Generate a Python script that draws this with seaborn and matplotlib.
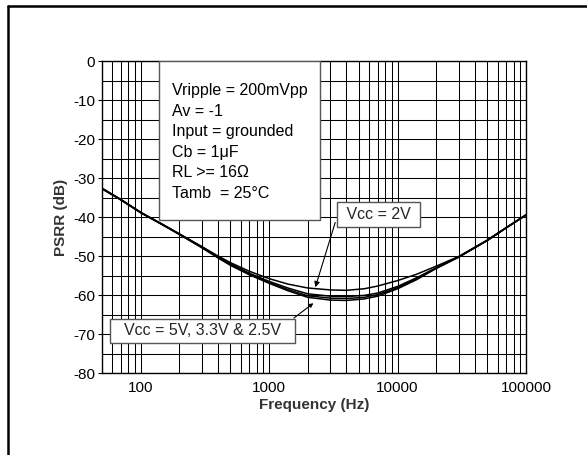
import numpy as np
import pandas as pd
import matplotlib
matplotlib.use('Agg')
import matplotlib.pyplot as plt
from matplotlib.lines import Line2D
from matplotlib.patches import Rectangle
from matplotlib.ticker import FixedLocator, FuncFormatter, LogLocator, MultipleLocator
import seaborn as sns

# values
freq_hz = [50, 70, 100, 150, 200, 300, 400, 500, 700, 1000, 1400, 2000,
           3000, 4000, 5500, 7000, 10000, 14000, 20000, 30000, 50000,
           70000, 100000]

psrr_2v = [-32.6, -35.5, -38.8, -42.0, -44.3, -47.6, -50.0, -51.7, -53.9,
           -55.8, -57.2, -58.2, -58.7, -58.8, -58.4, -57.7, -56.3, -54.7,
           -52.6, -50.1, -45.9, -42.7, -39.4]
psrr_25v = [-32.7, -35.5, -38.8, -42.0, -44.4, -47.7, -50.2, -52.0, -54.4,
            -56.5, -58.2, -59.7, -60.3, -60.4, -60.1, -59.5, -57.8, -55.6,
            -53.0, -50.2, -46.0, -42.8, -39.5]
psrr_33v = [-32.7, -35.6, -38.9, -42.1, -44.4, -47.8, -50.3, -52.2, -54.6,
            -56.8, -58.6, -60.2, -60.8, -60.9, -60.6, -59.9, -58.1, -55.9,
            -53.1, -50.2, -46.0, -42.8, -39.5]
psrr_5v = [-32.8, -35.6, -38.9, -42.1, -44.5, -47.9, -50.5, -52.4, -54.8,
           -57.0, -58.9, -60.6, -61.3, -61.4, -61.0, -60.3, -58.4, -56.1,
           -53.2, -50.3, -46.0, -42.8, -39.5]

series_names = ['2V', '2.5V', '3.3V', '5V']
x_ticks = [100, 1000, 10000, 100000]
y_ticks = [0, -10, -20, -30, -40, -50, -60, -70, -80]

conditions = [
    'Vripple = 200mVpp',
    'Av = -1',
    'Input = grounded',
    'Cb = 1\u03bcF',
    'RL >= 16\u03a9',
    'Tamb  = 25\u00b0C',
]


frames = []
for name, values in zip(series_names, [psrr_2v, psrr_25v, psrr_33v, psrr_5v]):
    frames.append(pd.DataFrame({'Frequency': freq_hz, 'PSRR': values, 'Vcc': name}))
data = pd.concat(frames, ignore_index=True)

sns.set_theme(style='white')
plt.rcParams['font.family'] = ['Liberation Sans', 'DejaVu Sans']
plt.rcParams['axes.unicode_minus'] = False

fig = plt.figure(figsize=(5.87, 4.55), dpi=100)
ax = fig.add_axes([0.1738, 0.1802, 0.7223, 0.6857])

sns.lineplot(
    data=data,
    x='Frequency',
    y='PSRR',
    hue='Vcc',
    palette=['black'] * 4,
    linewidth=1.1,
    legend=False,
    ax=ax,
    zorder=4
)

ax.set_xscale('log')
ax.set_xlim(50, 100000)
ax.set_ylim(-80, 0)

ax.xaxis.set_major_locator(FixedLocator(x_ticks))
ax.xaxis.set_major_formatter(FuncFormatter(lambda v, p: f'{int(round(v))}'))
ax.xaxis.set_minor_locator(LogLocator(base=10, subs=range(2, 10)))
ax.xaxis.set_minor_formatter(FuncFormatter(lambda v, p: ''))
ax.yaxis.set_major_locator(FixedLocator(y_ticks))
ax.yaxis.set_minor_locator(MultipleLocator(5))

ax.grid(which='both', color='black', linewidth=0.75)
ax.set_axisbelow(True)

ax.tick_params(axis='y', which='major', direction='out', length=3, width=0.8,
               labelsize=11, pad=2, color='black', labelcolor='black', left=True)
ax.tick_params(axis='y', which='minor', length=0)
ax.tick_params(axis='x', which='both', length=0, labelsize=11, pad=6,
               labelcolor='black')

for spine in ax.spines.values():
    spine.set_color('black')
    spine.set_linewidth(1.0)

ax.set_xlabel('Frequency (Hz)', fontsize=11, fontweight='bold',
              color='#333333', labelpad=2)
ax.set_ylabel('PSRR (dB)', fontsize=11, fontweight='bold',
              color='#333333', labelpad=4)

# conditions box
ax.add_patch(Rectangle((140, -40.8), 2500 - 140, 40.8, facecolor='white',
                       edgecolor='#555555', linewidth=1.0, zorder=3))
for i, line in enumerate(conditions):
    ax.text(174, -7.6 - i * 5.25, line, fontsize=11.5, va='center',
            ha='left', color='black', zorder=5)

box_style = dict(boxstyle='square,pad=0.3', facecolor='white',
                 edgecolor='#555555', linewidth=1.0)

ax.text(7060, -39.3, ' Vcc = 2V ', fontsize=11.5, ha='center', va='center',
        bbox=box_style, zorder=6)
ax.annotate('', xy=(2290, -58.0), xytext=(3270, -41.4),
            arrowprops=dict(arrowstyle='-|>', color='black', lw=0.8,
                            mutation_scale=8, shrinkA=0, shrinkB=0),
            zorder=6)

ax.text(303, -69.2, '  Vcc = 5V, 3.3V & 2.5V  ', fontsize=11.5, ha='center',
        va='center', bbox=box_style, zorder=6)
ax.annotate('', xy=(2210, -62.1), xytext=(1560, -65.9),
            arrowprops=dict(arrowstyle='-|>', color='black', lw=0.8,
                            mutation_scale=6, shrinkA=0, shrinkB=0),
            zorder=6)

# page frame
fig.add_artist(Line2D([0.0128, 0.0128], [0.0, 0.9868], transform=fig.transFigure,
                      color='black', linewidth=1.8))
fig.add_artist(Line2D([0.0128, 1.0], [0.9868, 0.9868], transform=fig.transFigure,
                      color='black', linewidth=1.8))

fig.savefig('out.png', dpi=100)
